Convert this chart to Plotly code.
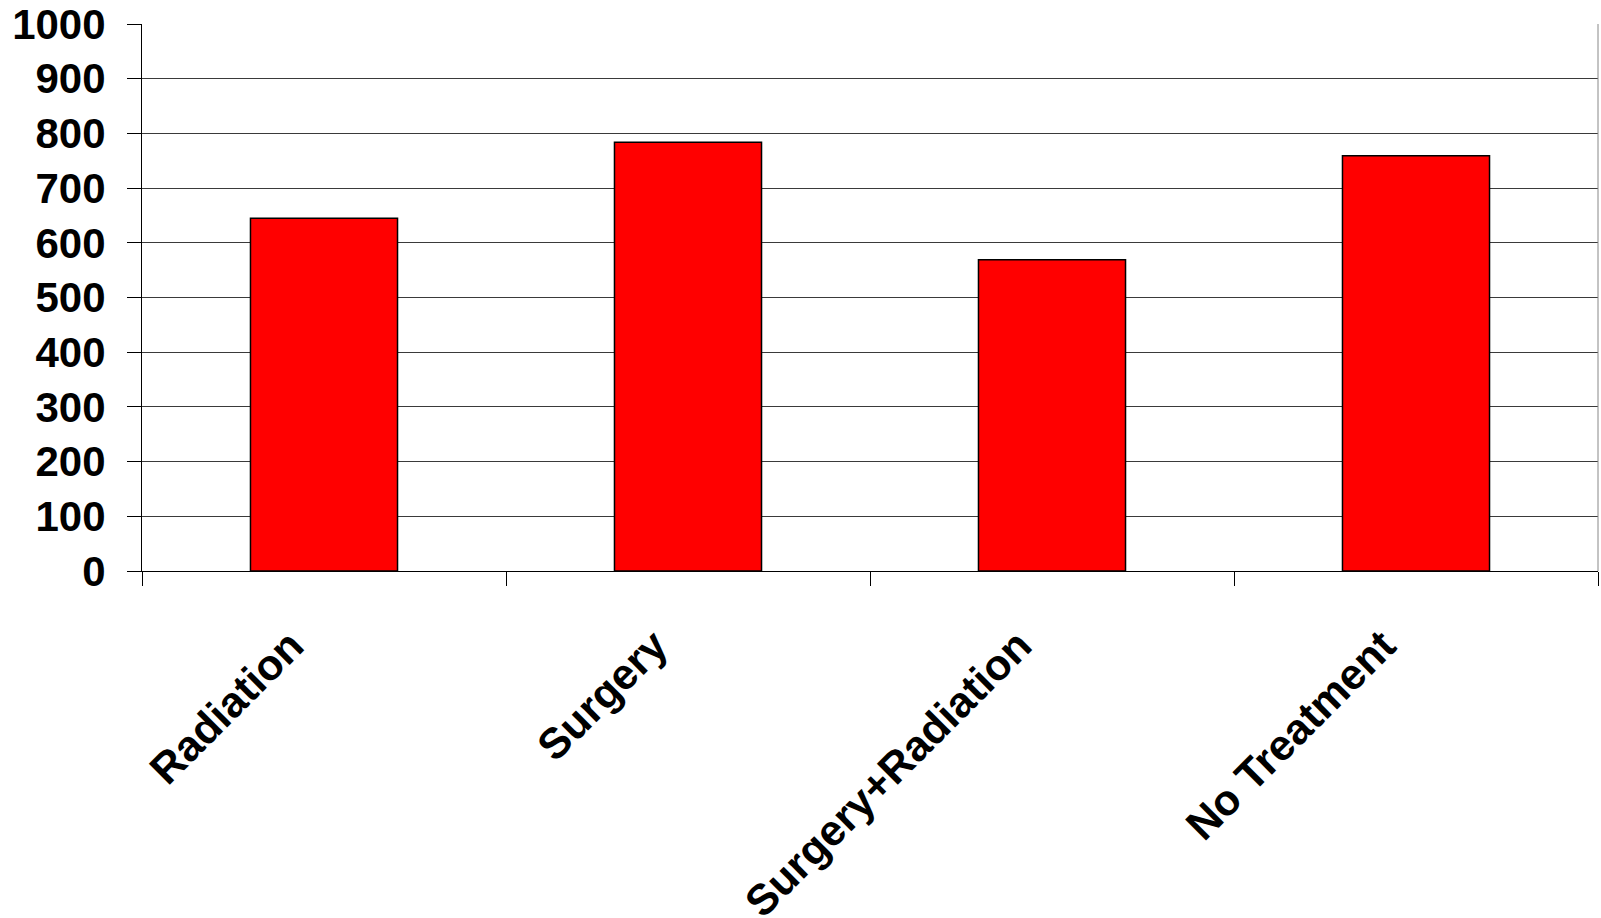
import plotly.graph_objects as go

# Treatment groups and their values
categories = ["Radiation", "Surgery", "Surgery+Radiation", "No Treatment"]
values = [645, 784, 569, 759]
y_ticks = [0, 100, 200, 300, 400, 500, 600, 700, 800, 900, 1000]

font_family = "Liberation Sans, Arial, sans-serif"
font_y = dict(family=font_family, size=42, color="black", weight="bold")
font_x = dict(family=font_family, size=43, color="black", weight="bold")

fig = go.Figure(
    go.Bar(
        x=categories,
        y=values,
        marker=dict(color="#ff0000", line=dict(color="black", width=1.5)),
    )
)

fig.update_layout(
    width=1601,
    height=918,
    margin=dict(l=142, r=3, t=24, b=347, autoexpand=False),
    paper_bgcolor="white",
    plot_bgcolor="white",
    bargap=0.596,
    showlegend=False,
    font=font_y,
)

fig.update_xaxes(
    type="category",
    tickangle=-45,
    tickfont=font_x,
    ticks="outside",
    ticklen=14,
    tickcolor="black",
    tickwidth=1,
    tickson="boundaries",
    ticklabelstandoff=31,
    ticklabelshift=-33,
    showline=True,
    linecolor="black",
    linewidth=1,
    showgrid=False,
    automargin=False,
)

fig.update_yaxes(
    range=[0, 1000],
    tickvals=y_ticks,
    tickfont=font_y,
    ticks="outside",
    ticklen=14,
    tickcolor="black",
    tickwidth=1,
    ticklabelstandoff=13,
    showline=True,
    linecolor="black",
    linewidth=1,
    showgrid=True,
    gridcolor="#3a3a3a",
    gridwidth=1,
    zeroline=False,
    automargin=False,
)

# Right-hand frame edge
fig.add_shape(
    type="line", xref="paper", yref="paper",
    x0=1, x1=1, y0=0, y1=1,
    line=dict(color="#888888", width=1),
)

fig.write_html("out.html")
